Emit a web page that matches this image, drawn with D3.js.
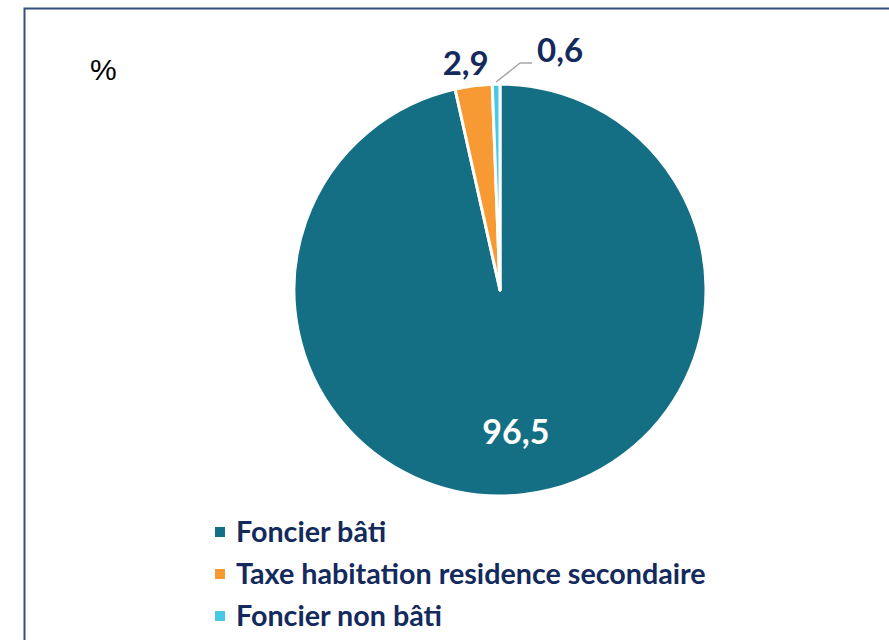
<!DOCTYPE html>
<html>
<head>
<meta charset="utf-8">
<script src="https://cdn.jsdelivr.net/npm/d3@7"></script>
<style>
	body { margin: 0; background: #fff; }
	svg { display: block; }
</style>
</head>
<body>
<svg id="pie-chart"></svg>
<script>
// data
const categories = ['Foncier bâti', 'Taxe habitation residence secondaire', 'Foncier non bâti'];
const values = [96.5, 2.9, 0.6];
const labels = ['96,5', '2,9', '0,6'];
const colors = ['#146f84', '#f79a33', '#48c8e6'];

const width = 889;
const height = 640;
const cx = 500;
const cy = 290;
const radius = 206;
const textColor = '#142a5c';
const font = 'Lato, "Open Sans", sans-serif';

const svg = d3.select('#pie-chart')
	.attr('width', width)
	.attr('height', height);

// frame
svg.append('rect')
	.attr('x', 24.5)
	.attr('y', 8.5)
	.attr('width', width)
	.attr('height', height)
	.attr('fill', 'none')
	.attr('stroke', '#34507e')
	.attr('stroke-width', 2);

svg.append('text')
	.attr('x', 90)
	.attr('y', 80)
	.attr('font-family', '"Liberation Sans", Arial, sans-serif')
	.attr('font-size', 30)
	.attr('fill', '#000')
	.text('%');

const data = categories.map((c, i) => ({ name: c, value: values[i], label: labels[i], color: colors[i] }));

const pie = d3.pie().sort(null).value((d) => d.value);
const arcs = pie(data);
const arc = d3.arc().innerRadius(0).outerRadius(radius);

const g = svg.append('g').attr('transform', `translate(${cx},${cy})`);

g.selectAll('path')
	.data(arcs)
	.join('path')
	.attr('d', arc)
	.attr('fill', (d) => d.data.color)
	.attr('stroke', '#fff')
	.attr('stroke-width', 3)
	.attr('stroke-linejoin', 'round');

// big slice label inside
const inner = d3.arc().innerRadius(radius * 0.7).outerRadius(radius * 0.7);
g.append('text')
	.attr('transform', `translate(${inner.centroid(arcs[0])})`)
	.attr('text-anchor', 'middle')
	.attr('dy', '0.32em')
	.attr('font-family', font)
	.attr('font-weight', 'bold')
	.attr('font-size', 34)
	.attr('fill', '#fff')
	.text(arcs[0].data.label);

// small slice labels outside
const outer = d3.arc().innerRadius(radius + 22).outerRadius(radius + 22);
const p1 = outer.centroid(arcs[1]);
g.append('text')
	.attr('x', p1[0] - 5)
	.attr('y', p1[1])
	.attr('text-anchor', 'middle')
	.attr('dy', '0.35em')
	.attr('font-family', font)
	.attr('font-weight', 'bold')
	.attr('font-size', 33)
	.attr('fill', textColor)
	.text(arcs[1].data.label);

// leader line for the smallest slice
const edge = d3.arc().innerRadius(radius + 2).outerRadius(radius + 2).centroid(arcs[2]);
const elbow = [edge[0] + 24, edge[1] - 19];
const end = [elbow[0] + 12, elbow[1]];
g.append('polyline')
	.attr('points', [edge, elbow, end].map((p) => p.join(',')).join(' '))
	.attr('fill', 'none')
	.attr('stroke', '#a6a6a6')
	.attr('stroke-width', 1.5);

g.append('text')
	.attr('x', end[0] + 5)
	.attr('y', end[1] - 13)
	.attr('dy', '0.35em')
	.attr('font-family', font)
	.attr('font-weight', 'bold')
	.attr('font-size', 33)
	.attr('fill', textColor)
	.text(arcs[2].data.label);

// legend
const legend = svg.append('g')
	.selectAll('g')
	.data(data)
	.join('g')
	.attr('transform', (d, i) => `translate(215,${531 + i * 42})`);

legend.append('rect')
	.attr('x', 0)
	.attr('y', -4)
	.attr('width', 10)
	.attr('height', 10)
	.attr('fill', (d) => d.color);

legend.append('text')
	.attr('x', 21)
	.attr('y', 1)
	.attr('dy', '0.35em')
	.attr('font-family', font)
	.attr('font-weight', 'bold')
	.attr('font-size', 28.7)
	.attr('fill', textColor)
	.text((d) => d.name);
</script>
</body>
</html>
